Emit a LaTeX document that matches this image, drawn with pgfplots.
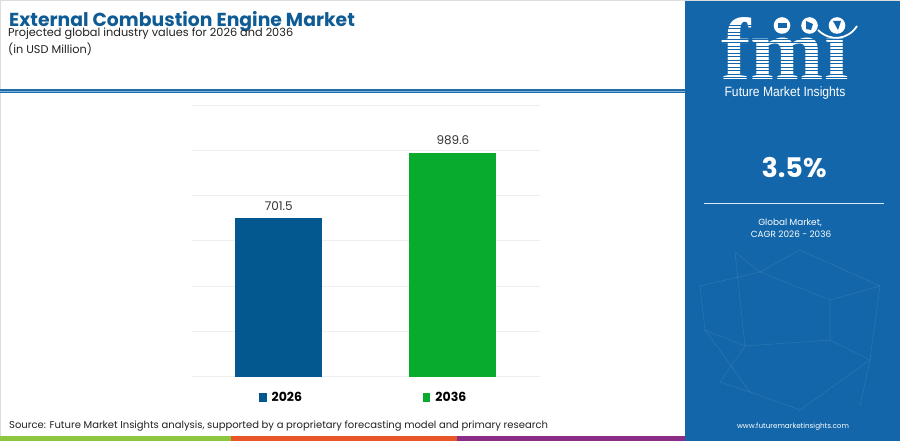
\documentclass[border=0pt]{standalone}
\usepackage{fontspec}
\setmainfont{Poppins}
\newfontfamily\libsans{Liberation Sans}
\newfontfamily\libserif{Liberation Serif}
\usepackage{pgfplots}
\pgfplotsset{compat=1.18}
\definecolor{titleblue}{HTML}{0F5B94}
\definecolor{textgray}{HTML}{222222}
\definecolor{labelgray}{HTML}{333333}
\definecolor{lineblue}{HTML}{1D6CAC}
\definecolor{panelblue}{HTML}{1266A9}
\definecolor{bartwo}{HTML}{09AB2F}
\definecolor{barone}{HTML}{03598F}
\definecolor{gridgray}{HTML}{EEEEEE}
\definecolor{framegray}{HTML}{DDDDDD}
\definecolor{stripgreen}{HTML}{8DC63F}
\definecolor{striporange}{HTML}{E8562A}
\definecolor{strippurple}{HTML}{8B2C86}
\begin{document}
\begin{tikzpicture}[x=1bp,y=-1bp]
\path[use as bounding box] (0,0) rectangle (900,441);
\fill[white] (0,0) rectangle (900,441);
\draw[line width=1bp, color=framegray] (0.5,0.5) rectangle (899.5,440.5);
% titles
\node[anchor=base west, inner sep=0, text=titleblue, text depth=0pt, font=\bfseries\fontsize{18.8bp}{22bp}\selectfont] at (9,27) {External Combustion Engine Market};
\node[anchor=base west, inner sep=0, text=textgray, font=\fontsize{11.3bp}{13bp}\selectfont] at (8,37) {Projected global industry values for 2026 and 2036};
\node[anchor=base west, inner sep=0, text=textgray, font=\fontsize{11.3bp}{13bp}\selectfont] at (8,54) {(in USD Million)};
% blue rule
\fill[lineblue] (0,89) rectangle (685,93);
\fill[lineblue!55!white] (0,90.6) rectangle (685,91.4);
% bottom strip
\fill[stripgreen] (0,436) rectangle (231,441);
\fill[striporange] (231,436) rectangle (457,441);
\fill[strippurple] (457,436) rectangle (685,441);
% source
\node[anchor=base west, inner sep=0, text=textgray, font=\fontsize{10bp}{12bp}\selectfont] at (9,428) {Source: Future Market Insights analysis, supported by a proprietary forecasting model and primary research};
% right panel
\fill[panelblue] (685,1.5) rectangle (900,441);
\begin{scope}[draw=white, opacity=0.10, line width=0.6bp]
\draw (735,252) -- (760,272) -- (700,286) -- (705,330) -- (745,346) -- (720,382) -- (750,392) -- (800,410);
\draw (800,250) -- (760,272) -- (830,300) -- (880,286) -- (870,360) -- (860,406);
\draw (830,300) -- (830,340) -- (745,346);
\draw (830,340) -- (870,360) -- (800,410);
\draw (735,252) -- (745,346);
\draw (800,250) -- (880,286);
\draw (705,330) -- (750,392);
\end{scope}
% logo
\node[anchor=base, inner sep=0, text=white, text depth=0pt, font=\libserif\bfseries\fontsize{88bp}{88bp}\selectfont] at (785,80) {fmı};
\foreach \yy in {25,28.5,...,79} {\fill[panelblue] (715,\yy) rectangle (860,\yy+1);}
\fill[white] (782,25.5) circle (8.3);
\fill[white] (809.5,25.5) circle (8.3);
\fill[white] (837,25.5) circle (8.3);
\fill[panelblue] (778,23) rectangle (787,28);
\fill[panelblue] (806,21) -- (813,24) -- (811,30) -- (806,29) -- cycle;
\fill[panelblue] (833,21) -- (841,21) -- (838,30) -- cycle;
\draw[white, line width=1.8bp] (818,30) .. controls (830,42) and (848,40) .. (857,26);
\node[anchor=base, inner sep=0, text=white, xscale=0.9, font=\libsans\fontsize{13.5bp}{15bp}\selectfont] at (785,97) {Future Market Insights};
\node[anchor=base, inner sep=0, text=white, font=\bfseries\fontsize{27bp}{30bp}\selectfont] at (794,178) {3.5\%};
\draw[white!85!panelblue, line width=1.5bp] (704,203.5) -- (884,203.5);
\node[anchor=base, inner sep=0, text=white, font=\fontsize{8.9bp}{11bp}\selectfont] at (790,225.5) {Global Market,};
\node[anchor=base, inner sep=0, text=white, font=\fontsize{8.9bp}{11bp}\selectfont] at (791,238) {CAGR 2026 - 2036};
\node[anchor=base, inner sep=0, text=white, font=\fontsize{7.2bp}{9bp}\selectfont] at (793,428) {www.futuremarketinsights.com};
% chart
\begin{axis}[
  at={(191.7bp,-376.7bp)}, anchor=south west,
  scale only axis, width=348.3bp, height=271.7bp,
  xmin=-0.5, xmax=1.5, ymin=0, ymax=1200,
  ytick={0,200,...,1200}, yticklabels={}, xtick=\empty,
  ymajorgrids, grid style={draw=gridgray, line width=0.9bp},
  axis line style={draw=none}, major tick length=0pt,
  ybar, bar width=87bp,
  clip=false,
  nodes near coords,
  nodes near coords style={font=\fontsize{12bp}{14bp}\selectfont, text=labelgray, anchor=base, inner sep=0pt, yshift=7.7bp, /pgf/number format/.cd, fixed, fixed zerofill, precision=1, assume math mode=true},
  legend columns=2,
  legend image code/.code={\fill[#1] (0bp,-4.2bp) rectangle (7.5bp,4.2bp);},
  legend style={draw=none, fill=none, inner sep=0pt, at={(0.193,-0.0766)}, anchor=west,
    font=\bfseries\fontsize{12.5bp}{14bp}\selectfont,
    /tikz/every odd column/.append style={column sep=3bp},
    /tikz/every even column/.append style={column sep=119bp}},
  legend cell align=left,
]
\addplot[fill=barone, draw=none, bar shift=0pt] coordinates {(0,701.5)};
\addplot[fill=bartwo, draw=none, bar shift=0pt] coordinates {(1,989.6)};
\legend{2026,2036}
\end{axis}
\end{tikzpicture}
\end{document}
